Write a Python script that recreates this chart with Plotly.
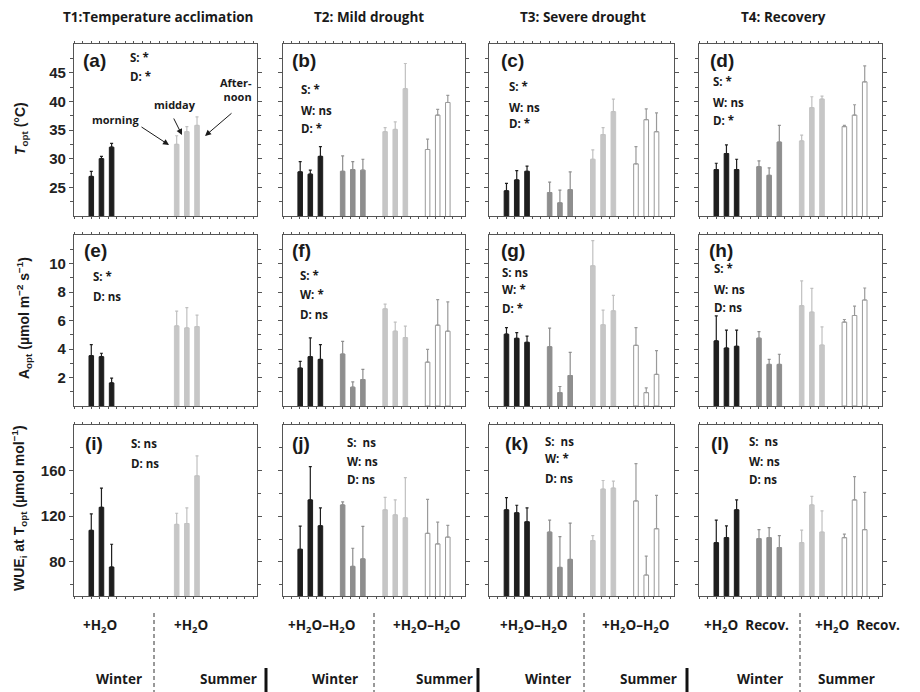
import plotly.graph_objects as go

W, H = 920, 692

# ---------------- data (mean, SE) : order = winter +H2O (x3), winter -H2O (x3), summer +H2O (x3), summer -H2O (x3)
# Row 1: T_opt (°C)
topt_a = [26.9, 30.0, 32.0, None, None, None, 32.5, 34.7, 35.8, None, None, None]
topt_a_se = [0.9, 0.4, 0.65, 0, 0, 0, 1.5, 0.9, 1.5, 0, 0, 0]
topt_b = [27.7, 27.3, 30.4, 27.8, 28.1, 28.0, 34.7, 35.1, 42.2, 31.6, 37.6, 39.8]
topt_b_se = [1.8, 0.7, 1.7, 2.7, 1.4, 1.9, 0.7, 1.3, 4.4, 1.8, 1.0, 1.25]
topt_c = [24.4, 26.3, 27.8, 24.1, 22.3, 24.6, 29.9, 34.2, 38.2, 29.1, 36.8, 34.7]
topt_c_se = [1.3, 1.6, 0.9, 1.8, 2.2, 3.1, 1.65, 1.2, 2.2, 3.0, 1.9, 3.3]
topt_d = [28.1, 30.9, 28.1, 28.6, 27.1, 32.9, 33.1, 38.9, 40.4, 35.6, 37.6, 43.4]
topt_d_se = [1.1, 1.5, 1.8, 1.0, 1.3, 2.9, 1.0, 1.9, 0.5, 0.2, 1.8, 2.8]
# Row 2: A_opt (µmol m-2 s-1)
aopt_e = [3.53, 3.46, 1.62, None, None, None, 5.62, 5.48, 5.57, None, None, None]
aopt_e_se = [0.77, 0.24, 0.33, 0, 0, 0, 1.04, 1.42, 0.81, 0, 0, 0]
aopt_f = [2.66, 3.46, 3.27, 3.65, 1.32, 1.86, 6.82, 5.25, 4.8, 3.08, 5.67, 5.25]
aopt_f_se = [0.47, 1.32, 1.03, 0.89, 0.37, 0.71, 0.33, 0.64, 0.8, 0.9, 1.79, 2.05]
aopt_g = [5.04, 4.75, 4.47, 4.16, 0.94, 2.14, 9.84, 5.7, 6.68, 4.26, 0.94, 2.22]
aopt_g_se = [0.46, 0.4, 0.43, 1.3, 0.43, 1.63, 1.76, 1.03, 1.08, 1.24, 0.33, 1.66]
aopt_h = [4.57, 4.07, 4.19, 4.76, 2.92, 2.92, 7.04, 6.59, 4.28, 5.89, 6.35, 7.44]
aopt_h_se = [1.76, 1.25, 1.13, 0.46, 0.35, 0.71, 1.74, 1.67, 1.27, 0.18, 0.66, 0.84]
# Row 3: WUEi at T_opt (µmol mol-1)
wue_i = [107.6, 127.8, 75.4, None, None, None, 112.8, 113.6, 155.4, None, None, None]
wue_i_se = [14.5, 16.9, 20.0, 0, 0, 0, 9.8, 13.7, 17.6, 0, 0, 0]
wue_j = [91.0, 134.3, 111.6, 129.9, 76.0, 82.6, 125.6, 121.2, 118.6, 105.0, 95.7, 101.7]
wue_j_se = [20.3, 29.2, 15.7, 2.6, 15.9, 28.4, 10.9, 13.1, 35.3, 29.8, 19.1, 10.2]
wue_k = [125.6, 123.0, 115.1, 106.1, 75.1, 82.1, 98.6, 143.8, 144.7, 133.4, 68.4, 109.0]
wue_k_se = [10.7, 6.6, 12.2, 10.4, 27.0, 31.8, 4.4, 7.5, 6.1, 32.7, 16.6, 29.3]
wue_l = [96.8, 101.2, 125.6, 100.3, 101.2, 92.5, 96.8, 129.9, 106.1, 101.2, 134.3, 108.2]
wue_l_se = [19.7, 10.4, 8.7, 7.9, 8.8, 10.5, 11.0, 7.5, 18.6, 3.1, 20.5, 32.7]

col_titles = ["T1:Temperature acclimation", "T2: Mild drought", "T3: Severe drought", "T4: Recovery"]
panel_letters = ["(a)", "(b)", "(c)", "(d)", "(e)", "(f)", "(g)", "(h)", "(i)", "(j)", "(k)", "(l)"]
stats = [
    ["S: *", "D: *"], ["S: *", "W: ns", "D: *"], ["S: *", "W: ns", "D: *"], ["S: *", "W: ns", "D: *"],
    ["S: *", "D: ns"], ["S: *", "W: *", "D: ns"], ["S: ns", "W: *", "D: *"], ["S: *", "W: ns", "D: ns"],
    ["S: ns", "D: ns"], ["S:  ns", "W: ns", "D: ns"], ["S:  ns", "W: *", "D: ns"], ["S:  ns", "W: ns", "D: ns"],
]
treat_labels = [["+H<sub>2</sub>O", "+H<sub>2</sub>O"],
                ["+H<sub>2</sub>O\u2013H<sub>2</sub>O", "+H<sub>2</sub>O\u2013H<sub>2</sub>O"],
                ["+H<sub>2</sub>O\u2013H<sub>2</sub>O", "+H<sub>2</sub>O\u2013H<sub>2</sub>O"],
                ["+H<sub>2</sub>O  Recov.", "+H<sub>2</sub>O  Recov."]]
season_labels = ["Winter", "Summer"]

panels = [(topt_a, topt_a_se), (topt_b, topt_b_se), (topt_c, topt_c_se), (topt_d, topt_d_se),
          (aopt_e, aopt_e_se), (aopt_f, aopt_f_se), (aopt_g, aopt_g_se), (aopt_h, aopt_h_se),
          (wue_i, wue_i_se), (wue_j, wue_j_se), (wue_k, wue_k_se), (wue_l, wue_l_se)]

# ---------------- layout geometry (pixels)
col_px = [(74, 257), (283, 465), (489, 674), (699, 882)]
row_px = [(44, 216), (235, 406), (425, 596)]
y_ranges = [[20, 50], [0, 12], [50, 200]]
y_ticks = [[25, 30, 35, 40, 45], [2, 4, 6, 8, 10], [80, 120, 160]]
y_minor = [[22.5, 27.5, 32.5, 37.5, 42.5, 47.5], [1, 3, 5, 7, 9, 11], [60, 100, 140, 180]]

group_start = [1.7, 5.9, 10.1, 14.3]
fill_colors = ["#1e1e1e", "#8e8e8e", "#c6c6c6", "white"]
line_colors = ["#1e1e1e", "#8e8e8e", "#c6c6c6", "#9a9a9a"]
err_colors = ["#1e1e1e", "#8e8e8e", "#c0c0c0", "#9a9a9a"]

TXT_FONT = "Open Sans, Lato, sans-serif"
NUM_FONT = "Liberation Sans, Arial, sans-serif"
INK = "#1a1a1a"


def px(x):
    return x / W


def py(y):
    return 1 - y / H


def note(text, x, y, size, family=TXT_FONT, xanchor="center", yanchor="middle", **kw):
    return dict(text="<b>" + text + "</b>", x=px(x), y=py(y), xref="paper", yref="paper", showarrow=False,
                xanchor=xanchor, yanchor=yanchor,
                font=dict(family=family, size=size, color=INK, weight="bold"), **kw)


fig = go.Figure()
layout = {}
annotations = []
shapes = []

for k in range(12):
    r, c = divmod(k, 4)
    idx = "" if k == 0 else str(k + 1)
    vals, ses = panels[k]
    for g in range(4):
        xs, ys, es = [], [], []
        for i in range(3):
            v = vals[g * 3 + i]
            if v is None:
                continue
            xs.append(group_start[g] + i)
            ys.append(v)
            es.append(ses[g * 3 + i])
        if not xs:
            continue
        fig.add_trace(go.Bar(
            x=xs, y=ys, width=0.45, xaxis="x" + idx, yaxis="y" + idx,
            marker=dict(color=fill_colors[g], line=dict(color=line_colors[g], width=1)),
            error_y=dict(type="data", symmetric=False, array=es, arrayminus=[0] * len(es),
                         color=err_colors[g], thickness=1.2, width=1.5),
            showlegend=False, hoverinfo="x+y"))
    x0, x1 = col_px[c]
    y0, y1 = row_px[r]
    layout["xaxis" + idx] = dict(
        domain=[px(x0), px(x1)], range=[0, 18], anchor="y" + idx,
        showline=True, linecolor="#555555", linewidth=1.2, mirror="allticks",
        ticks="outside", ticklen=2, tickcolor="#555555", tick0=0, dtick=0.84,
        showticklabels=False, showgrid=False, zeroline=False, fixedrange=True)
    layout["yaxis" + idx] = dict(
        domain=[py(y1), py(y0)], range=y_ranges[r], anchor="x" + idx,
        showline=True, linecolor="#555555", linewidth=1.2, mirror="allticks",
        ticks="outside", ticklen=4, tickcolor="#555555", tickvals=y_ticks[r],
        ticktext=["<b>%g</b>" % v for v in y_ticks[r]],
        showticklabels=(c == 0),
        tickfont=dict(family=NUM_FONT, size=15, color="#222222", weight="bold"),
        minor=dict(tickvals=y_minor[r], ticks="outside", ticklen=2.5, tickcolor="#555555"),
        showgrid=False, zeroline=False, fixedrange=True)

# panel letters and stats
letter_pos = [(81, 60), (290, 60), (499, 60), (708, 60),
              (82, 250), (290, 250), (499, 250), (707, 250),
              (83, 443), (290, 443), (503, 443), (709, 443)]
stats_pos = [(128, [57, 77]), (299, [89, 110, 128]), (507, [86, 107, 123]), (711, [82, 103, 120]),
             (91, [276, 296]), (298, [275, 294, 314]), (500, [272, 289, 308]), (712, [269, 289, 307]),
             (129, [444, 463]), (345, [442, 461, 479]), (543, [441, 458, 478]), (747, [441, 461, 479])]
for k in range(12):
    lx, ly = letter_pos[k]
    annotations.append(note(panel_letters[k], lx, ly, 19, family=NUM_FONT, xanchor="left"))
    sx, sys_ = stats_pos[k]
    for t, sy in zip(stats[k], sys_):
        annotations.append(note(t, sx, sy, 11.5, xanchor="left"))

# column titles
title_cx = [158, 369, 583, 783]
for c in range(4):
    annotations.append(note(col_titles[c], title_cx[c], 17, 13.5))

# y-axis titles
ytitles = [("<i>T</i><sub>opt</sub> (°C)", 21, 129),
           ("A<sub>opt</sub> (µmol m<sup>\u22122</sup> s<sup>\u22121</sup>)", 24, 318),
           ("WUE<sub>i</sub> at T<sub>opt</sub> (µmol mol<sup>\u22121</sup>)", 19, 508)]
for t, x, y in ytitles:
    annotations.append(note(t, x, y, 14, family=NUM_FONT, textangle=-90))

# panel (a) arrows/labels
annotations.append(note("morning", 115, 119, 11))
annotations.append(note("midday", 175, 104, 11))
annotations.append(note("After-<br>noon", 254, 89, 11, xanchor="right", align="right"))
for (hx, hy, tx, ty) in [(169, 145, 140, 126), (182, 135, 173, 117), (205, 136, 233, 112)]:
    annotations.append(dict(text="", x=px(hx), y=py(hy), xref="paper", yref="paper",
                            ax=tx - hx, ay=ty - hy, showarrow=True, arrowhead=2, arrowsize=1.2,
                            arrowwidth=1, arrowcolor=INK))

# bottom treatment / season labels
treat_cx = [(100, 191), (321, 426), (533, 635), (746, 857)]
season_cx = [(119, 228), (335, 444), (548, 648), (760, 846)]
dash_x = [154, 374, 584, 800]
thick_x = [266, 478, 687, None]
for c in range(4):
    for j in range(2):
        annotations.append(note(treat_labels[c][j], treat_cx[c][j], 626, 13.5))
        annotations.append(note(season_labels[j], season_cx[c][j], 679, 13.5))
    shapes.append(dict(type="line", xref="paper", yref="paper", x0=px(dash_x[c]), x1=px(dash_x[c]),
                       y0=py(613), y1=py(692), line=dict(color="#333333", width=1, dash="4px,3px")))
    if thick_x[c] is not None:
        shapes.append(dict(type="line", xref="paper", yref="paper", x0=px(thick_x[c]), x1=px(thick_x[c]),
                           y0=py(668), y1=py(692), line=dict(color="#111111", width=3)))

fig.update_layout(width=W, height=H, margin=dict(l=0, r=0, t=0, b=0),
                  paper_bgcolor="white", plot_bgcolor="white", barmode="overlay",
                  annotations=annotations, shapes=shapes, **layout)

fig.write_html("out.html")
